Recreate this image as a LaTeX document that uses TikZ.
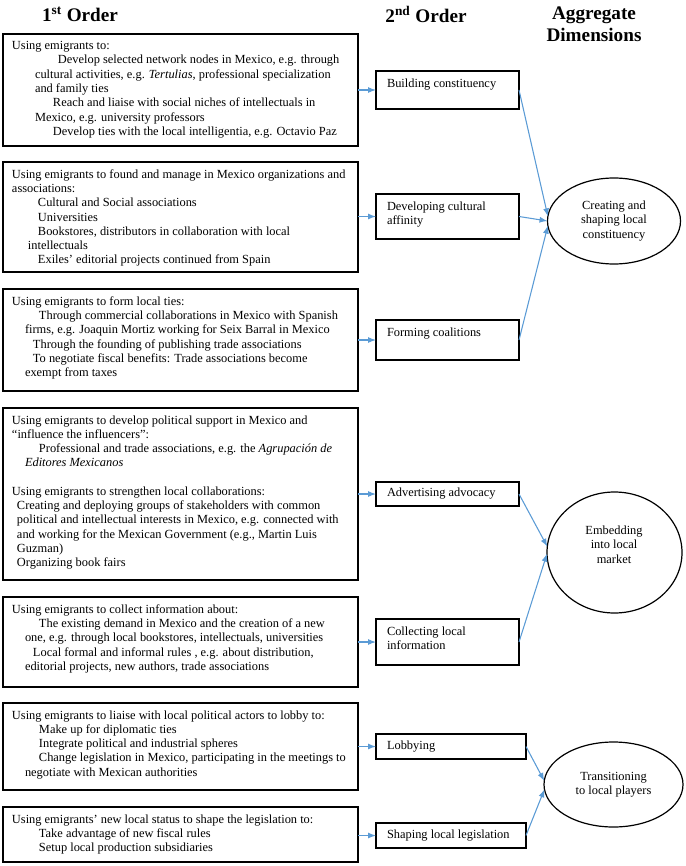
\documentclass[tikz,border=0pt]{standalone}
\usepackage{fontspec}
\setmainfont{Liberation Serif}
\usetikzlibrary{arrows.meta,shapes.geometric,calc}
\newlength\pxu \setlength\pxu{0.75pt}
\newcommand\ind[1]{\hspace*{#1\pxu}}
\definecolor{arrblue}{HTML}{5B9BD5}
\begin{document}
\begin{tikzpicture}[x=0.75pt,y=-0.75pt,
  every node/.style={inner sep=0pt, outer sep=0pt},
  hdr/.style={font=\fontsize{14.4}{16.5}\selectfont\bfseries, align=center},
  bigbox/.style={draw, line width=1pt, anchor=north west, minimum width=355\pxu},
  txt/.style={anchor=north west, align=left, font=\fontsize{9.3}{10.7}\selectfont},
  midbox/.style={draw, line width=1pt, anchor=north west, minimum width=143\pxu},
  ell/.style={draw, ellipse, line width=0.9pt, align=center, font=\fontsize{9.3}{10.7}\selectfont},
  arr/.style={draw=arrblue, line width=0.8pt, -{Latex[length=6pt,width=4.5pt]}}
]
\useasboundingbox (0,0) rectangle (685,866);

% headers
\node[hdr] (h1) at (80,14) {1\textsuperscript{st} Order};
\node[hdr] (h2) at (426,14) {2\textsuperscript{nd} Order};
\node[hdr] (h3) at (594,24) {Aggregate\\Dimensions};

% first-order boxes
\node[bigbox, minimum height=112\pxu] (b1) at (3,34) {};
\node[txt] (t1) at (12,41.5) {Using emigrants to:\\
\ind{46}Develop selected network nodes in Mexico, e.g. through\\
\ind{23}cultural activities, e.g. \textit{Tertulias}, professional specialization\\
\ind{23}and family ties\\
\ind{41}Reach and liaise with social niches of intellectuals in\\
\ind{23}Mexico, e.g. university professors\\
\ind{41}Develop ties with the local intelligentia, e.g. Octavio Paz};

\node[bigbox, minimum height=110\pxu] (b2) at (3,162) {};
\node[txt] (t2) at (12,169.5) {Using emigrants to found and manage in Mexico organizations and\\
associations:\\
\ind{26}Cultural and Social associations\\
\ind{26}Universities\\
\ind{26}Bookstores, distributors in collaboration with local\\
\ind{16}intellectuals\\
\ind{26}Exiles’ editorial projects continued from Spain};

\node[bigbox, minimum height=102\pxu] (b3) at (3,289) {};
\node[txt] (t3) at (12,296.5) {Using emigrants to form local ties:\\
\ind{27}Through commercial collaborations in Mexico with Spanish\\
\ind{13}firms, e.g. Joaquin Mortiz working for Seix Barral in Mexico\\
\ind{21}Through the founding of publishing trade associations\\
\ind{21}To negotiate fiscal benefits: Trade associations become\\
\ind{13}exempt from taxes};

\node[bigbox, minimum height=172\pxu] (b4) at (3,408) {};
\node[txt] (t4) at (12,415.5) {Using emigrants to develop political support in Mexico and\\
“influence the influencers”:\\
\ind{27}Professional and trade associations, e.g. the \textit{Agrupación de}\\
\ind{13}\textit{Editores Mexicanos}\\[10.7pt]
Using emigrants to strengthen local collaborations:\\
\ind{5}Creating and deploying groups of stakeholders with common\\
\ind{5}political and intellectual interests in Mexico, e.g. connected with\\
\ind{5}and working for the Mexican Government (e.g., Martin Luis\\
\ind{5}Guzman)\\
\ind{5}Organizing book fairs};

\node[bigbox, minimum height=90\pxu] (b5) at (3,597) {};
\node[txt] (t5) at (12,604.5) {Using emigrants to collect information about:\\
\ind{27}The existing demand in Mexico and the creation of a new\\
\ind{13}one, e.g. through local bookstores, intellectuals, universities\\
\ind{21}Local formal and informal rules , e.g. about distribution,\\
\ind{13}editorial projects, new authors, trade associations};

\node[bigbox, minimum height=87\pxu] (b6) at (3,703) {};
\node[txt] (t6) at (12,710.5) {Using emigrants to liaise with local political actors to lobby to:\\
\ind{27}Make up for diplomatic ties\\
\ind{27}Integrate political and industrial spheres\\
\ind{27}Change legislation in Mexico, participating in the meetings to\\
\ind{13}negotiate with Mexican authorities};

\node[bigbox, minimum height=55\pxu] (b7) at (3,807) {};
\node[txt] (t7) at (12,814.5) {Using emigrants’ new local status to shape the legislation to:\\
\ind{27}Take advantage of new fiscal rules\\
\ind{27}Setup local production subsidiaries};

% second-order boxes
\node[midbox, minimum height=38\pxu] (s1) at (376,71) {};
\node[txt] (u1) at (387,78.5) {Building constituency};
\node[midbox, minimum height=45\pxu] (s2) at (376,194) {};
\node[txt] (u2) at (387,201.5) {Developing cultural\\affinity};
\node[midbox, minimum height=40\pxu] (s3) at (376,320) {};
\node[txt] (u3) at (387,327.5) {Forming coalitions};
\node[midbox, minimum height=24\pxu] (s4) at (376,482) {};
\node[txt, anchor=west] (u4) at (387,494) {Advertising advocacy};
\node[midbox, minimum height=46\pxu] (s5) at (376,619) {};
\node[txt] (u5) at (387,626.5) {Collecting local\\information};
\node[midbox, minimum width=150\pxu, minimum height=25\pxu] (s6) at (376,734) {};
\node[txt, anchor=west] (u6) at (387,746.5) {Lobbying};
\node[midbox, minimum width=150\pxu, minimum height=25\pxu] (s7) at (376,823) {};
\node[txt, anchor=west] (u7) at (387,835.5) {Shaping local legislation};

% aggregate ellipses
\node[ell, minimum width=133\pxu, minimum height=86\pxu] (e1) at (614,221) {Creating and\\shaping local\\constituency};
\node[ell, minimum width=135\pxu, minimum height=121\pxu] (e2) at (614.5,552.5) {};
\node[txt, anchor=center, align=center] (e2t) at (614,544.5) {Embedding\\into local\\market};
\node[ell, minimum width=139\pxu, minimum height=85\pxu] (e3) at (613.5,784.5) {Transitioning\\to local players};

% arrows first -> second order
\foreach \b/\s in {b1/s1,b2/s2,b3/s3,b4/s4,b5/s5,b6/s6,b7/s7}
  \draw[arr] (\b.east |- \s.west) -- (\s.west);

% arrows second order -> aggregate
\draw[arr] (s1.east) -- (e1.176);
\draw[arr] (s2.east) -- (e1.180);
\draw[arr] (s3.east) -- (e1.184);
\draw[arr] (s4.east) -- (e2.175);
\draw[arr] (s5.east) -- (e2.181);
\draw[arr] (s6.east) -- (e3.177);
\draw[arr] (s7.east) -- (e3.184);
\end{tikzpicture}
\end{document}
